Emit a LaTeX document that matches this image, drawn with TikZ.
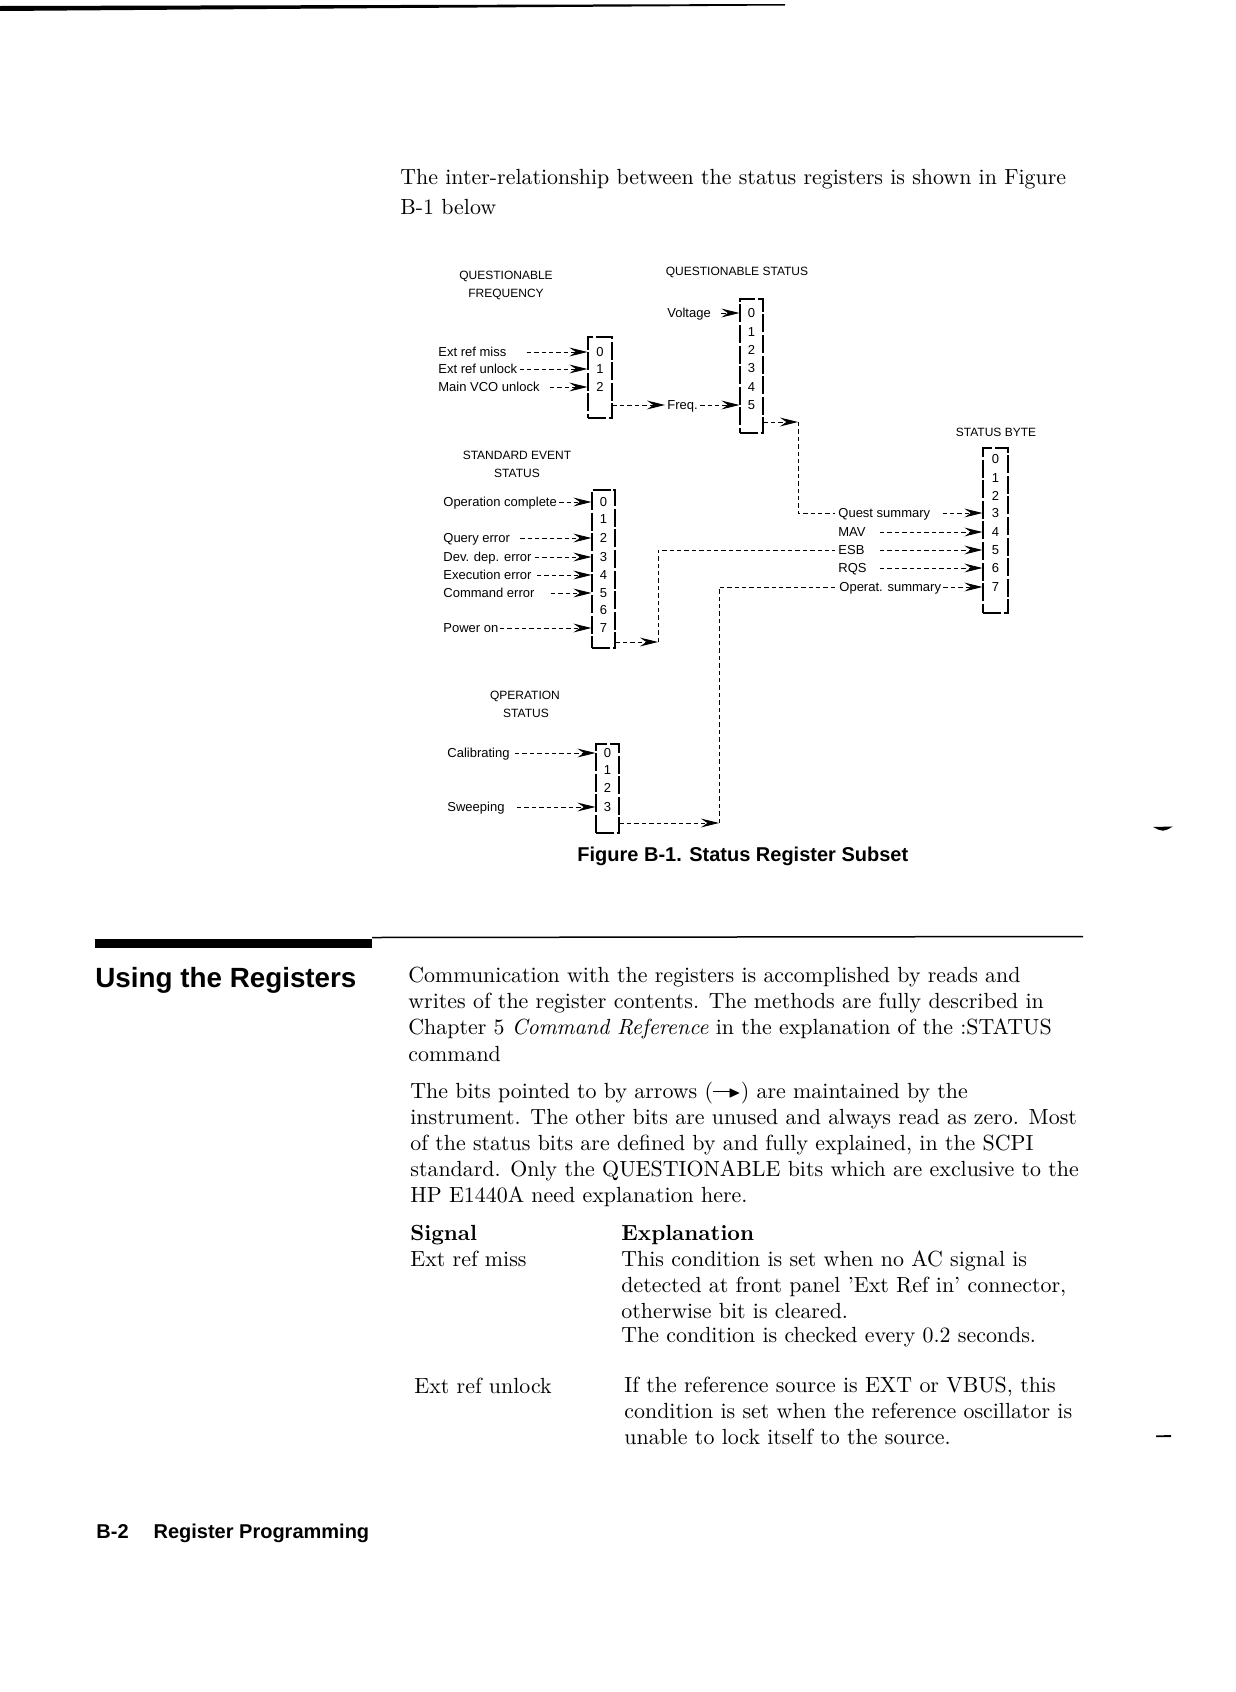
\documentclass[tikz,border=0pt]{standalone}
\usepackage{fontspec}
\usepackage{amssymb}
\newfontfamily\hv{Liberation Sans}
\usetikzlibrary{arrows.meta,fit}
\begin{document}
\begin{tikzpicture}[x=0.5pt,y=-0.5pt,
  lbl/.style={font=\hv\fontsize{6.5}{7}\selectfont, inner sep=0pt, text height=4.7pt, text depth=0pt, anchor=west},
  hdr/.style={font=\hv\fontsize{6}{7}\selectfont, inner sep=0pt, text height=4.3pt, text depth=0pt},
  bit/.style={font=\hv\fontsize{6.5}{7}\selectfont, inner sep=0pt, text height=4.7pt, text depth=0pt},
  regbox/.style={draw, line width=0.55pt, dash pattern=on 9pt off 1.3pt, inner sep=0pt},
  sig/.style={line width=0.45pt, dash pattern=on 2.2pt off 1.5pt, -{Stealth[length=9pt,width=4.4pt,inset=3.2pt]}},
  wire/.style={line width=0.45pt, dash pattern=on 2.2pt off 1.5pt},
  body/.style={font=\fontsize{10.95}{13}\selectfont, inner sep=0pt, anchor=base west},
  hbold/.style={font=\hv\bfseries, inner sep=0pt, anchor=base west},
]
\fill[white] (0,0) rectangle (1236,1692);
\useasboundingbox (0,0) rectangle (1236,1692);

% top rule
\fill (0,6) -- (400,5) -- (785,4) -- (785,5.5) -- (400,8) -- (0,11) -- cycle;

% intro text
\node[body] (i1) at (400,184) {The inter-relationship between the status registers is shown in Figure};
\node[body] (i2) at (400,214) {B-1 below};

% ---------- QUESTIONABLE FREQUENCY
\node[hdr] (qfh1) at (506,275) {QUESTIONABLE};
\node[hdr] (qfh2) at (506,293) {FREQUENCY};
\node[regbox, fit={(588,337) (612,418)}] (qf) {};
\node[bit] (qf0) at (600,352) {0};
\node[bit] (qf1) at (600,369) {1};
\node[bit] (qf2) at (600,387) {2};
\node[lbl] (erm) at (438,352) {Ext ref miss};
\node[lbl] (eru) at (438,369) {Ext ref unlock};
\node[lbl] (mvu) at (438,387) {Main VCO unlock};
\draw[sig] ([xshift=10pt]erm.east) -- (qf.west |- erm.east);
\draw[sig] ([xshift=1pt]eru.east) -- (qf.west |- eru.east);
\draw[sig] ([xshift=5pt]mvu.east) -- (qf.west |- mvu.east);

% ---------- QUESTIONABLE STATUS
\node[hdr] (qsh) at (737,271) {QUESTIONABLE STATUS};
\node[regbox, fit={(740,299) (763,433)}] (qs) {};
\node[bit] (qs0) at (751.5,313) {0};
\node[bit] (qs1) at (751.5,332) {1};
\node[bit] (qs2) at (751.5,350) {2};
\node[bit] (qs3) at (751.5,368) {3};
\node[bit] (qs4) at (751.5,387) {4};
\node[bit] (qs5) at (751.5,405) {5};
\node[lbl] (volt) at (667,313) {Voltage};
\draw[sig] ([xshift=5pt]volt.east) -- (qs.west |- volt.east);
\node[lbl] (freq) at (667,405) {Freq.};
\draw[sig] (qf.east |- freq.west) -- ([xshift=-1pt]freq.west);
\draw[sig] ([xshift=1pt]freq.east) -- (qs.west |- freq.east);
\coordinate (qsout) at (798,422);
\draw[sig] (qs.east |- qsout) -- (qsout);

% ---------- STATUS BYTE
\node[hdr] (sbh) at (996,432) {STATUS BYTE};
\node[regbox, fit={(983,448) (1008,613)}] (sb) {};
\node[bit] (sb0) at (995.5,459) {0};
\node[bit] (sb1) at (995.5,478) {1};
\node[bit] (sb2) at (995.5,496) {2};
\node[bit] (sb3) at (995.5,513) {3};
\node[bit] (sb4) at (995.5,532) {4};
\node[bit] (sb5) at (995.5,550) {5};
\node[bit] (sb6) at (995.5,568) {6};
\node[bit] (sb7) at (995.5,587) {7};
\node[lbl] (qsum) at (838,513) {Quest summary};
\node[lbl] (mav) at (838,532) {MAV};
\node[lbl] (esb) at (838,550) {ESB};
\node[lbl] (rqs) at (838,568) {RQS};
\node[lbl] (ops) at (839,587) {Operat. summary};
\draw[sig] ([xshift=6pt]qsum.east) -- (sb.west |- qsum.east);
\draw[sig] (880,532) -- (sb.west |- mav.east);
\draw[sig] (880,550) -- (sb.west |- esb.east);
\draw[sig] (880,568) -- (sb.west |- rqs.east);
\draw[sig] ([xshift=1pt]ops.east) -- (sb.west |- ops.east);
\draw[wire] (qsout) -- (qsout |- qsum.west) -- ([xshift=-1.5pt]qsum.west);

% ---------- STANDARD EVENT STATUS
\node[hdr] (sesh1) at (517,455) {STANDARD EVENT};
\node[hdr] (sesh2) at (517,473) {STATUS};
\node[regbox, fit={(592,490) (615,648)}] (ses) {};
\node[bit] (ses0) at (603.5,502) {0};
\node[bit] (ses1) at (603.5,519) {1};
\node[bit] (ses2) at (603.5,538) {2};
\node[bit] (ses3) at (603.5,557) {3};
\node[bit] (ses4) at (603.5,575) {4};
\node[bit] (ses5) at (603.5,593) {5};
\node[bit] (ses6) at (603.5,610) {6};
\node[bit] (ses7) at (603.5,628) {7};
\node[lbl] (opc) at (443,502) {Operation complete};
\node[lbl] (qye) at (443,538) {Query error};
\node[lbl] (dde) at (443,557) {Dev. dep. error};
\node[lbl] (exe) at (443,575) {Execution error};
\node[lbl] (cme) at (443,593) {Command error};
\node[lbl] (pon) at (443,628) {Power on};
\draw[sig] ([xshift=1pt]opc.east) -- (ses.west |- opc.east);
\draw[sig] ([xshift=5pt]qye.east) -- (ses.west |- qye.east);
\draw[sig] ([xshift=1.5pt]dde.east) -- (ses.west |- dde.east);
\draw[sig] ([xshift=2.5pt]exe.east) -- (ses.west |- exe.east);
\draw[sig] ([xshift=8pt]cme.east) -- (ses.west |- cme.east);
\draw[sig] ([xshift=0.5pt]pon.east) -- (ses.west |- pon.east);
\coordinate (sesv) at (658,642);
\draw[sig] (ses.east |- sesv) -- (sesv);
\draw[wire] (sesv) -- (sesv |- esb.west) -- ([xshift=-1.5pt]esb.west);

% ---------- OPERATION STATUS
\node[hdr] (osh1) at (525,695) {QPERATION};
\node[hdr] (osh2) at (526,713) {STATUS};
\node[regbox, fit={(596,744) (619,833)}] (os) {};
\node[bit] (os0) at (607.5,753) {0};
\node[bit] (os1) at (607.5,770) {1};
\node[bit] (os2) at (607.5,788) {2};
\node[bit] (os3) at (607.5,807) {3};
\node[lbl] (cal) at (447,753) {Calibrating};
\node[lbl] (swp) at (447,807) {Sweeping};
\draw[sig] ([xshift=2.5pt]cal.east) -- (os.west |- cal.east);
\draw[sig] ([xshift=6pt]swp.east) -- (os.west |- swp.east);
\coordinate (osv) at (719,823);
\draw[sig] (os.east |- osv) -- (osv);
\draw[wire] (osv) -- (osv |- ops.west) -- ([xshift=-1.5pt]ops.west);

% caption
\node[font=\hv\bfseries\fontsize{10}{12}\selectfont, inner sep=0pt, anchor=west] (cap) at (577,856) {Figure B-1. Status Register Subset};

% margin marks
\fill (1153,827) .. controls (1163,827.5) .. (1173,826.5) .. controls (1163,832) .. (1153,827) -- cycle;
\fill (1156,1435.5) -- (1171,1435) -- (1171,1437) -- (1156,1437) -- cycle;

% section rule
\fill (95,939) rectangle (372,948);
\draw[line width=0.75pt] (372,937.5) -- (1083,936.5);

\node[hbold, font=\hv\bfseries\fontsize{13.9}{16}\selectfont] (sec) at (95,987) {Using the Registers};

% paragraph 1
\node[body] (p1a) at (408,982) {Communication with the registers is accomplished by reads and};
\node[body] (p1b) at (408,1008) {writes of the register contents. The methods are fully described in};
\node[body] (p1c) at (408,1034) {Chapter 5 \textit{Command Reference} in the explanation of the :STATUS};
\node[body] (p1d) at (408,1061) {command};

% paragraph 2
\node[body] (p2a) at (410,1098) {The bits pointed to by arrows (\rule[0.28em]{0.85em}{0.06em}\kern-0.15em\raisebox{0.02em}{$\scriptstyle\blacktriangleright$}) are maintained by the};
\node[body] (p2b) at (410,1124) {instrument. The other bits are unused and always read as zero. Most};
\node[body] (p2c) at (410,1150) {of the status bits are defined by and fully explained, in the SCPI};
\node[body] (p2d) at (410,1176) {standard. Only the QUESTIONABLE bits which are exclusive to the};
\node[body] (p2e) at (410,1202) {HP E1440A need explanation here.};

% table
\node[body] (ts) at (410,1240) {\bfseries Signal};
\node[body] (te) at (621,1240) {\bfseries Explanation};
\node[body] (s1) at (410,1266) {Ext ref miss};
\node[body] (e1a) at (621,1266) {This condition is set when no AC signal is};
\node[body] (e1b) at (621,1292) {detected at front panel ’Ext Ref in’ connector,};
\node[body] (e1c) at (621,1318) {otherwise bit is cleared.};
\node[body] (e1d) at (621,1342) {The condition is checked every 0.2 seconds.};
\node[body] (s2) at (414,1393) {Ext ref unlock};
\node[body] (e2a) at (624,1392) {If the reference source is EXT or VBUS, this};
\node[body] (e2b) at (624,1418) {condition is set when the reference oscillator is};
\node[body] (e2c) at (624,1444) {unable to lock itself to the source.};

% footer
\node[hbold, font=\hv\bfseries\fontsize{10}{12}\selectfont] (foot) at (96,1538) {B-2\hspace{12.5pt}Register Programming};
\end{tikzpicture}
\end{document}
